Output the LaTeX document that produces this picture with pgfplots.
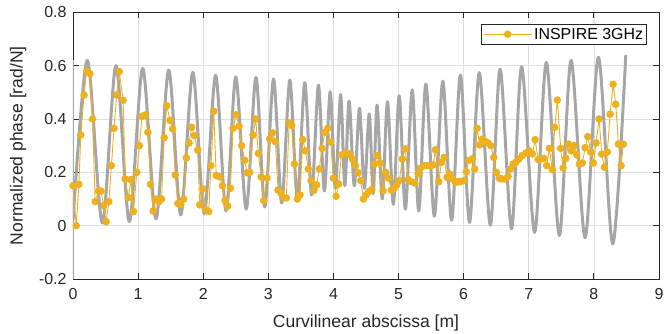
\documentclass[border=0pt]{standalone}
\usepackage{pgfplots}
\pgfplotsset{compat=1.18}
\usepackage{fontspec}
\setmainfont{Liberation Sans}
\definecolor{inspire}{rgb}{0.929,0.694,0.125}
\definecolor{bandgray}{rgb}{0.65,0.65,0.65}
\definecolor{axgray}{rgb}{0.15,0.15,0.15}
\definecolor{gridgray}{rgb}{0.87,0.87,0.87}

% simulated phase envelope (grey band)
\pgfplotstableread{
x y
0.00 0.02
0.22 0.62
0.45 0.01
0.66 0.60
0.865 0.015
1.07 0.59
1.275 0.025
1.47 0.584
1.655 0.04
1.84 0.575
2.015 0.045
2.19 0.564
2.35 0.055
2.50 0.558
2.66 0.062
2.81 0.556
2.945 0.07
3.08 0.55
3.205 0.085
3.33 0.546
3.445 0.10
3.56 0.536
3.665 0.115
3.77 0.527
3.86 0.13
3.95 0.502
4.03 0.14
4.11 0.492
4.175 0.15
4.24 0.467
4.32 0.15
4.40 0.44
4.475 0.14
4.55 0.419
4.61 0.12
4.67 0.452
4.75 0.10
4.83 0.465
4.92 0.08
5.01 0.487
5.105 0.062
5.21 0.509
5.31 0.055
5.42 0.531
5.55 0.035
5.68 0.542
5.815 0.02
5.95 0.565
6.09 0.012
6.24 0.574
6.41 0.002
6.56 0.587
6.735 -0.012
6.89 0.596
7.09 -0.025
7.27 0.612
7.47 -0.037
7.65 0.62
7.865 -0.045
8.07 0.631
8.29 -0.068
8.49 0.64
}\simband

% measured phase, INSPIRE 3 GHz
\pgfplotstableread{
x y
0.00 0.15
0.05 0.00
0.09 0.155
0.12 0.34
0.17 0.49
0.21 0.58
0.26 0.57
0.30 0.40
0.34 0.09
0.39 0.13
0.43 0.13
0.47 0.075
0.51 0.015
0.55 0.09
0.59 0.225
0.63 0.365
0.67 0.49
0.71 0.578
0.77 0.47
0.80 0.175
0.85 0.105
0.89 0.173
0.93 0.053
0.98 0.20
1.02 0.30
1.06 0.41
1.11 0.415
1.15 0.35
1.19 0.155
1.23 0.055
1.27 0.10
1.32 0.09
1.36 0.10
1.40 0.33
1.44 0.45
1.49 0.395
1.53 0.363
1.57 0.19
1.61 0.083
1.654 0.078
1.70 0.10
1.741 0.254
1.782 0.31
1.823 0.369
1.864 0.338
1.915 0.283
1.946 0.078
1.997 0.138
2.038 0.06
2.084 0.053
2.12 0.225
2.161 0.429
2.20 0.188
2.253 0.183
2.294 0.15
2.335 0.094
2.376 0.073
2.417 0.14
2.458 0.365
2.504 0.416
2.55 0.373
2.591 0.30
2.637 0.245
2.673 0.198
2.714 0.20
2.765 0.34
2.806 0.40
2.846 0.271
2.888 0.183
2.929 0.094
2.98 0.178
3.021 0.325
3.062 0.348
3.108 0.315
3.149 0.133
3.19 0.123
3.236 0.104
3.277 0.104
3.318 0.385
3.359 0.375
3.40 0.231
3.446 0.10
3.487 0.115
3.528 0.323
3.568 0.281
3.614 0.213
3.656 0.169
3.702 0.133
3.743 0.153
3.783 0.213
3.825 0.29
3.866 0.35
3.912 0.365
3.958 0.313
3.998 0.178
4.04 0.11
4.081 0.156
4.121 0.265
4.163 0.27
4.209 0.273
4.255 0.265
4.295 0.248
4.336 0.225
4.378 0.198
4.419 0.169
4.46 0.10
4.501 0.115
4.542 0.128
4.588 0.135
4.628 0.231
4.674 0.263
4.716 0.235
4.762 0.131
4.803 0.20
4.85 0.178
4.889 0.133
4.931 0.14
4.972 0.153
5.012 0.169
5.058 0.25
5.105 0.288
5.146 0.173
5.197 0.165
5.249 0.16
5.30 0.194
5.335 0.215
5.387 0.225
5.438 0.225
5.489 0.223
5.53 0.228
5.566 0.285
5.617 0.165
5.658 0.2375
5.699 0.256
5.745 0.181
5.786 0.194
5.832 0.175
5.873 0.1625
5.914 0.165
5.955 0.165
6.006 0.169
6.041 0.2025
6.078 0.244
6.129 0.25
6.17 0.2125
6.206 0.365
6.247 0.3025
6.288 0.325
6.333 0.315
6.375 0.31
6.416 0.30
6.462 0.256
6.502 0.2
6.548 0.1775
6.59 0.175
6.64 0.175
6.682 0.185
6.717 0.2125
6.759 0.231
6.80 0.2375
6.85 0.25
6.90 0.2625
6.954 0.2725
7.005 0.281
7.055 0.269
7.097 0.3225
7.143 0.2475
7.184 0.25
7.235 0.2525
7.276 0.225
7.316 0.29
7.362 0.21
7.399 0.369
7.439 0.471
7.49 0.29
7.527 0.216
7.568 0.2525
7.608 0.306
7.654 0.281
7.696 0.30
7.737 0.265
7.777 0.231
7.823 0.235
7.865 0.2925
7.906 0.334
7.952 0.276
7.992 0.235
8.034 0.31
8.08 0.40
8.12 0.268
8.161 0.219
8.207 0.276
8.249 0.418
8.295 0.53
8.336 0.455
8.376 0.306
8.418 0.225
8.453 0.305
}\inspire

\begin{document}
\begin{tikzpicture}
\begin{axis}[
  at={(0,0)}, anchor=south west,
  scale only axis, width=586bp, height=266.7bp,
  xmin=0, xmax=9, ymin=-0.2, ymax=0.8,
  xtick={0,1,2,3,4,5,6,7,8,9},
  xticklabels={0,1,2,3,4,5,6,7,8,9},
  ytick={-0.2,0,0.2,0.4,0.6,0.8},
  yticklabels={-0.2,0,0.2,0.4,0.6,0.8},
  tick pos=both, tick align=inside, major tick length=6bp,
  grid=major,
  major grid style={draw=gridgray, line width=0.7bp},
  axis line style={draw=axgray, line width=0.8bp},
  tick style={draw=axgray, line width=0.8bp},
  ticklabel style={font=\fontsize{16}{18}\selectfont, text=axgray},
  xticklabel style={yshift=-6bp},
  yticklabel style={xshift=-3bp},
  label style={font=\fontsize{17.6}{20}\selectfont, text=axgray},
  xlabel={Curvilinear abscissa [m]},
  ylabel={Normalized phase [rad/N]},
  xlabel style={at={(axis description cs:0.5,-0.165)}, anchor=center},
  ylabel style={at={(axis description cs:-0.0939,0.5)}, anchor=center},
  legend style={at={(0.9795,0.956)}, anchor=north east,
    draw=axgray, line width=0.8bp, fill=white,
    font=\fontsize{16}{18}\selectfont, inner sep=1.5bp},
  legend cell align=left,
  legend image code/.code={%
    \draw[mark repeat=2, mark phase=2, #1]
      plot coordinates {(0bp,0bp) (24bp,0bp) (48bp,0bp)};},
]
\addplot[forget plot, draw=bandgray, line width=2bp] coordinates {(0,-0.2) (0,0.62)};
\addplot[forget plot, draw=bandgray, line width=3bp, smooth, line join=round] table[x=x, y=y] {\simband};
\addplot[draw=inspire, line width=0.9bp, mark=*, mark size=3.3bp,
  mark options={solid, fill=inspire, draw=inspire}] table[x=x, y=y] {\inspire};
\legend{INSPIRE 3GHz}
\end{axis}
\pgfresetboundingbox
\path[use as bounding box] (-73bp,-55bp) rectangle (591bp,279bp);
\end{tikzpicture}
\end{document}
